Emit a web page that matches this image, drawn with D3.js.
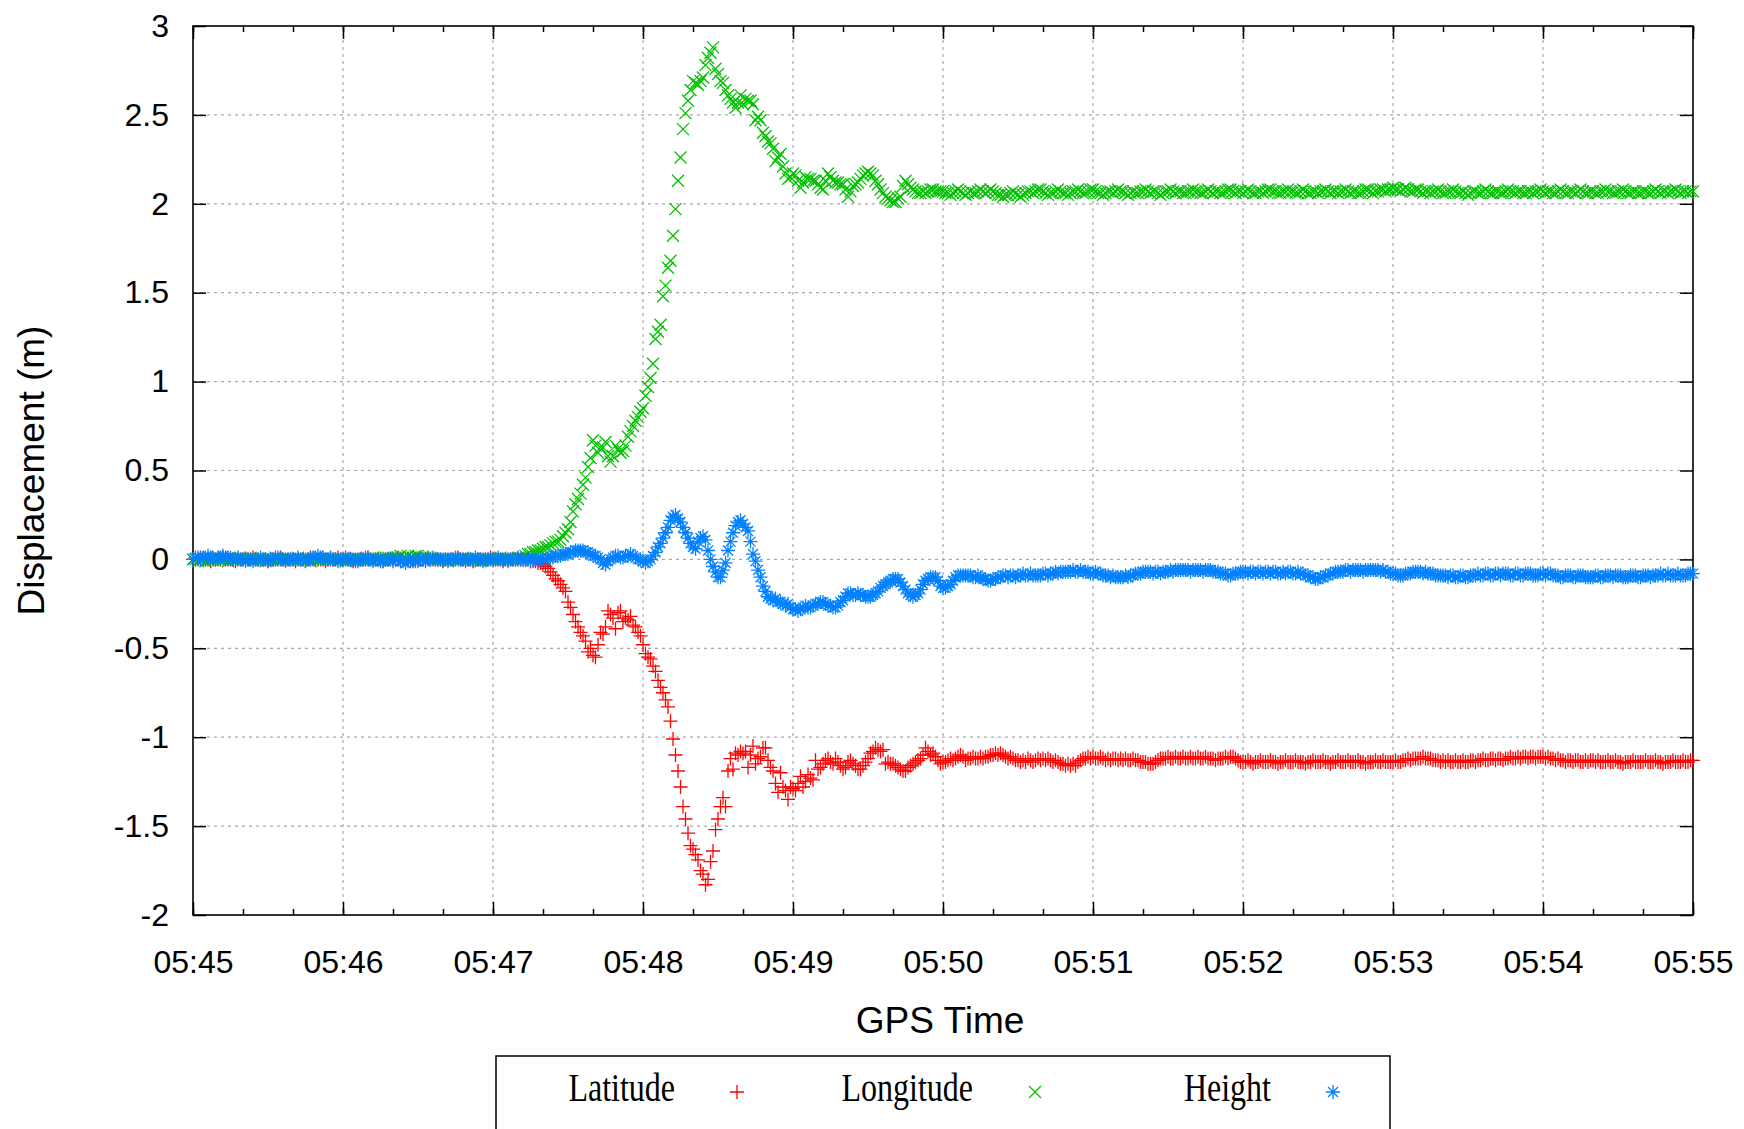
<!DOCTYPE html>
<html>
<head>
<meta charset="utf-8">
<script src="https://cdn.jsdelivr.net/npm/d3@7"></script>
<style>
  body { margin: 0; background: #fff; }
  .axis text { font-family: "Liberation Sans", Arial, sans-serif; font-size: 32px; fill: #000; }
  .axis line { stroke: #000; stroke-width: 1.5; }
  .axis path { display: none; }
</style>
</head>
<body>
<svg id="chart" width="1744" height="1129"></svg>
<script>
// displacement in cm, one sample per second starting 05:45:00 UTC
const latitude = [
  0,0,0,1,0,0,0,-1,0,0,0,0,1,0,0,0,0,-1,0,0,
  0,0,0,0,1,0,0,0,0,0,-1,0,0,0,0,1,0,0,0,0,
  0,-1,0,0,0,0,0,1,0,0,0,0,0,-1,0,0,0,0,1,0,
  0,0,0,0,-1,0,0,0,0,0,1,0,0,0,0,0,-1,0,0,0,
  0,0,1,0,0,0,0,0,-1,0,0,0,0,0,1,0,0,0,0,0,
  -1,0,0,0,0,0,1,0,0,0,0,0,-1,0,0,0,0,0,0,1,
  0,0,0,0,-1,0,0,0,0,0,0,0,0,0,0,-1,-1,-1,-2,-2,
  -3,-4,-5,-7,-9,-11,-12,-14,-16,-18,-24,-27,-31,-35,-38,-41,-43,-46,-52,-50,
  -54,-55,-48,-41,-42,-38,-29,-31,-33,-39,-30,-29,-35,-33,-34,-32,-37,-38,-41,-43,
  -48,-53,-55,-56,-60,-63,-68,-72,-75,-79,-83,-91,-101,-110,-119,-128,-139,-146,-154,-161,
  -163,-166,-169,-175,-177,-183,-180,-170,-164,-152,-146,-139,-134,-139,-119,-112,-118,-109,-110,-108,
  -109,-108,-117,-110,-105,-115,-112,-111,-106,-106,-113,-117,-119,-126,-131,-120,-128,-130,-135,-128,
  -129,-130,-126,-122,-128,-125,-121,-123,-124,-113,-118,-117,-115,-113,-112,-114,-115,-112,-114,-116,
  -118,-117,-114,-113,-115,-116,-118,-118,-116,-114,-112,-109,-108,-106,-107,-108,-107,-115,-114,-115,
  -115,-116,-117,-118,-119,-119,-117,-116,-115,-114,-113,-112,-110,-106,-108,-110,-109,-111,-113,-115,
  -114,-114,-113,-112,-113,-112,-111,-110,-111,-113,-112,-112,-111,-112,-112,-111,-112,-111,-111,-110,
  -110,-109,-110,-109,-110,-111,-112,-111,-112,-113,-113,-114,-113,-114,-112,-113,-114,-113,-112,-113,
  -112,-113,-112,-113,-114,-113,-114,-115,-115,-116,-115,-116,-115,-116,-114,-113,-112,-112,-111,-112,
  -111,-112,-112,-111,-112,-113,-112,-113,-112,-112,-113,-112,-113,-112,-113,-113,-112,-113,-113,-114,
  -114,-114,-115,-115,-115,-114,-113,-112,-112,-112,-111,-112,-112,-111,-112,-112,-111,-112,-112,-111,
  -112,-112,-111,-112,-112,-111,-112,-112,-112,-113,-112,-112,-112,-111,-112,-111,-111,-112,-113,-114,
  -114,-114,-113,-114,-115,-114,-114,-113,-114,-114,-114,-113,-114,-114,-115,-114,-114,-113,-114,-114,
  -114,-113,-114,-114,-114,-115,-114,-114,-113,-114,-114,-114,-113,-114,-114,-115,-114,-114,-113,-114,
  -114,-114,-113,-114,-114,-114,-113,-114,-114,-115,-114,-114,-114,-113,-114,-114,-113,-114,-114,-114,
  -114,-113,-114,-114,-113,-113,-112,-113,-112,-112,-112,-112,-111,-112,-112,-112,-113,-113,-113,-114,
  -113,-114,-113,-114,-114,-113,-114,-114,-113,-114,-114,-113,-113,-114,-113,-113,-112,-113,-113,-112,
  -112,-113,-112,-112,-113,-112,-112,-111,-112,-112,-111,-112,-111,-111,-112,-111,-111,-112,-111,-111,
  -111,-112,-111,-112,-112,-113,-112,-113,-113,-114,-113,-113,-114,-113,-113,-114,-114,-113,-114,-113,
  -113,-114,-113,-114,-114,-114,-113,-114,-114,-113,-114,-114,-115,-114,-114,-114,-113,-114,-114,-114,
  -114,-113,-114,-114,-114,-113,-114,-114,-115,-114,-114,-114,-113,-114,-114,-114,-113,-114,-114,-113,-113
];

const longitude = [
  0,0,-1,0,0,-1,0,0,0,1,0,0,0,0,-1,0,0,0,0,1,
  0,0,0,1,0,0,0,0,0,-1,0,0,0,1,0,0,0,0,0,0,
  0,0,1,0,0,0,0,-1,0,0,0,0,0,1,0,0,0,0,0,0,
  0,-1,0,0,0,1,0,0,0,0,0,0,1,0,0,0,0,1,1,0,
  1,1,1,2,1,1,2,1,1,2,2,1,1,1,0,1,0,0,0,0,
  0,0,-1,0,0,0,0,0,1,0,0,0,0,0,0,-1,0,0,0,0,
  0,0,0,1,0,0,0,0,0,0,1,1,1,2,3,3,4,4,5,5,
  6,7,7,8,9,10,10,11,13,15,17,21,27,31,34,37,42,46,52,57,
  67,64,60,63,63,66,58,55,58,64,62,60,61,64,69,72,75,78,80,83,
  85,92,97,102,110,124,128,132,148,154,164,168,182,197,213,226,242,251,258,264,
  269,268,267,269,271,278,282,285,288,276,273,269,268,264,261,259,257,254,257,261,
  256,259,258,258,256,247,249,247,240,238,235,234,231,224,226,228,221,217,214,215,
  217,216,213,209,212,215,214,214,213,213,211,209,208,213,217,215,213,212,212,211,
  211,208,204,207,210,211,212,214,216,217,218,217,216,213,211,208,206,204,203,202,
  201,201,203,204,210,213,211,209,208,207,206,206,207,206,207,208,208,207,207,207,
  207,206,206,205,206,207,208,207,206,205,206,207,206,206,207,208,207,206,207,208,
  207,206,205,205,204,205,205,206,207,206,205,204,205,206,207,207,206,207,208,208,
  207,206,205,206,206,207,208,207,206,206,205,206,207,207,208,207,206,206,207,208,
  208,207,206,206,205,206,207,207,206,207,208,207,207,206,205,206,207,206,206,207,
  207,208,207,206,207,207,206,205,206,207,207,208,207,206,207,207,206,206,207,207,
  208,207,207,206,206,207,208,207,206,207,207,206,206,207,208,208,207,206,207,207,
  206,207,208,207,206,206,207,207,206,207,208,208,207,207,206,206,207,207,208,207,
  207,206,206,207,208,207,206,206,207,207,206,207,207,208,207,206,207,207,206,207,
  207,208,207,206,207,207,206,206,207,208,208,207,206,207,207,208,208,207,208,208,
  209,208,208,207,208,209,208,207,207,208,208,207,206,207,207,206,207,207,208,207,
  206,206,207,207,208,207,206,206,207,206,205,206,207,207,206,206,207,208,207,206,
  206,207,207,206,206,207,208,207,207,206,207,207,206,206,207,207,206,207,207,208,
  207,206,207,207,206,206,207,208,207,206,206,207,207,206,207,208,207,206,206,207,
  207,206,206,207,207,208,207,207,206,206,207,207,208,207,206,206,207,207,206,206,
  207,207,206,206,207,208,207,206,207,207,206,207,207,208,207,206,207,207,206,207,207
];

const heightCm = [
  0,1,1,0,1,1,2,1,1,0,1,1,2,1,1,1,0,0,1,0,
  0,-1,0,0,-1,0,0,1,0,0,-1,0,0,1,1,0,0,-1,0,0,
  0,0,1,0,0,-1,0,0,1,1,2,1,1,0,0,1,0,0,-1,0,
  0,1,0,0,0,-1,-1,0,0,1,0,0,-1,0,0,-1,-1,0,0,0,
  -1,0,0,-1,-1,-2,-1,-1,0,-1,-1,0,0,-1,0,0,1,0,0,0,
  0,0,-1,0,0,1,0,0,0,-1,0,0,0,1,0,0,-1,0,0,0,
  0,0,1,0,0,0,-1,0,0,0,1,0,0,0,0,-1,0,0,0,0,
  0,0,1,1,1,2,2,2,3,3,3,4,4,5,5,5,5,4,4,3,
  2,2,1,0,-2,-3,-1,0,1,2,2,1,1,2,2,3,2,1,0,0,
  -1,-2,-1,0,2,4,7,9,12,15,18,22,24,25,23,21,18,15,12,9,
  7,6,10,12,13,11,5,0,-4,-7,-10,-10,-6,-2,5,10,15,19,21,22,
  20,18,16,10,3,-1,-6,-10,-15,-18,-21,-22,-23,-22,-24,-24,-25,-26,-25,-27,
  -28,-28,-29,-28,-27,-26,-27,-27,-26,-25,-25,-24,-24,-25,-26,-26,-27,-27,-26,-24,
  -23,-21,-19,-19,-20,-20,-19,-20,-20,-21,-21,-21,-20,-19,-18,-16,-15,-14,-13,-12,
  -11,-11,-11,-13,-15,-17,-19,-20,-21,-20,-19,-17,-14,-12,-11,-10,-10,-10,-12,-15,
  -16,-16,-15,-14,-12,-10,-9,-9,-9,-9,-9,-9,-10,-10,-9,-10,-11,-11,-12,-12,
  -11,-11,-10,-10,-9,-9,-10,-9,-9,-10,-9,-9,-8,-9,-9,-8,-9,-9,-9,-9,
  -8,-8,-9,-8,-8,-7,-8,-7,-7,-7,-7,-7,-6,-7,-7,-6,-7,-7,-7,-8,
  -8,-7,-8,-8,-9,-9,-9,-10,-9,-10,-10,-10,-10,-9,-10,-9,-9,-8,-8,-8,
  -7,-7,-7,-7,-8,-7,-7,-8,-7,-7,-7,-6,-7,-6,-6,-6,-6,-6,-6,-7,
  -6,-6,-6,-6,-7,-6,-6,-6,-7,-7,-7,-8,-8,-8,-9,-9,-8,-8,-8,-7,
  -7,-7,-8,-7,-7,-8,-7,-7,-8,-7,-7,-8,-7,-7,-8,-8,-7,-8,-7,-7,
  -8,-8,-7,-8,-8,-9,-9,-10,-10,-11,-11,-10,-10,-9,-9,-8,-8,-7,-7,-7,
  -7,-6,-6,-7,-6,-6,-6,-6,-7,-6,-6,-6,-6,-6,-6,-7,-6,-7,-7,-8,
  -8,-8,-9,-9,-9,-8,-8,-8,-7,-7,-7,-7,-8,-7,-8,-8,-8,-9,-9,-9,
  -9,-9,-10,-9,-9,-10,-10,-9,-9,-10,-10,-9,-9,-9,-8,-9,-9,-8,-8,-9,
  -9,-8,-8,-9,-8,-8,-8,-9,-9,-8,-8,-9,-9,-8,-8,-8,-9,-9,-9,-8,
  -8,-9,-8,-8,-9,-9,-9,-10,-10,-9,-9,-9,-10,-10,-9,-9,-9,-10,-10,-10,
  -10,-9,-9,-10,-10,-9,-9,-9,-10,-9,-9,-9,-10,-10,-10,-9,-9,-9,-10,-10,
  -9,-9,-9,-10,-9,-9,-9,-8,-9,-9,-8,-9,-9,-9,-8,-9,-9,-9,-8,-8,-8
];

const seriesNames = ['Latitude', 'Longitude', 'Height'];
const seriesColors = ['#ff0000', '#00c000', '#0080ff'];
const yTicks = [-2, -1.5, -1, -0.5, 0, 0.5, 1, 1.5, 2, 2.5, 3];
const startTime = Date.UTC(2011, 2, 11, 5, 45, 0);
const endTime = Date.UTC(2011, 2, 11, 5, 55, 0);

const margin = {top: 26, right: 51, bottom: 214, left: 193};
const width = 1744 - margin.left - margin.right;
const plotHeight = 1129 - margin.top - margin.bottom;

const svg = d3.select('#chart');
svg.append('rect').attr('width', 1744).attr('height', 1129).attr('fill', '#fff');

const x = d3.scaleUtc()
  .domain([new Date(startTime), new Date(endTime)])
  .range([0, width]);

const y = d3.scaleLinear()
  .domain([-2, 3])
  .range([plotHeight, 0]);

const g = svg.append('g').attr('transform', 'translate(' + margin.left + ',' + margin.top + ')');

// grid
const minutes = x.ticks(d3.utcMinute.every(1));
g.append('g').selectAll('line')
  .data(minutes.slice(1, -1))
  .join('line')
  .attr('x1', d => x(d)).attr('x2', d => x(d))
  .attr('y1', 0).attr('y2', plotHeight)
  .attr('stroke', '#a8a8a8').attr('stroke-width', 1.2).attr('stroke-dasharray', '3,4');

g.append('g').selectAll('line')
  .data(yTicks.slice(1, -1))
  .join('line')
  .attr('x1', 0).attr('x2', width)
  .attr('y1', d => y(d)).attr('y2', d => y(d))
  .attr('stroke', '#a8a8a8').attr('stroke-width', 1.2).attr('stroke-dasharray', '3,4');

// axes (plain hyphen for negatives, like gnuplot)
const fmt = d3.utcFormat('%H:%M');
g.append('g').attr('class', 'axis')
  .attr('transform', 'translate(0,' + plotHeight + ')')
  .call(d3.axisBottom(x).ticks(d3.utcMinute.every(1)).tickFormat(fmt).tickSize(-13).tickPadding(35));
g.append('g').attr('class', 'axis')
  .attr('transform', 'translate(0,' + plotHeight + ')')
  .call(d3.axisBottom(x).ticks(d3.utcSecond.every(20)).tickFormat('').tickSize(-6));
g.append('g').attr('class', 'axis')
  .call(d3.axisTop(x).ticks(d3.utcMinute.every(1)).tickFormat('').tickSize(-13));
g.append('g').attr('class', 'axis')
  .call(d3.axisTop(x).ticks(d3.utcSecond.every(20)).tickFormat('').tickSize(-6));
g.append('g').attr('class', 'axis')
  .call(d3.axisLeft(y).tickValues(yTicks).tickFormat(d => String(d)).tickSize(-13).tickPadding(24));
g.append('g').attr('class', 'axis')
  .attr('transform', 'translate(' + width + ',0)')
  .call(d3.axisRight(y).tickValues(yTicks).tickFormat('').tickSize(-13));

g.append('rect')
  .attr('width', width).attr('height', plotHeight)
  .attr('fill', 'none').attr('stroke', '#000').attr('stroke-width', 1.6);

// point symbols like gnuplot pt 1, 2, 3
const symbols = [
  'M-7,0H7M0,-7V7',
  'M-6,-6L6,6M-6,6L6,-6',
  'M-7,0H7M0,-7V7M-5,-5L5,5M-5,5L5,-5'
];

const series = [latitude, longitude, heightCm];
series.forEach((vals, k) => {
  g.append('g')
    .selectAll('path')
    .data(vals)
    .join('path')
    .attr('transform', (d, i) => 'translate(' + x(new Date(startTime + i * 1000)) + ',' + y(d / 100) + ')')
    .attr('d', symbols[k])
    .attr('fill', 'none')
    .attr('stroke', seriesColors[k])
    .attr('stroke-width', 1.3);
});

// axis titles
svg.append('text')
  .attr('transform', 'translate(31,' + (margin.top + plotHeight / 2) + ') rotate(-90)')
  .attr('text-anchor', 'middle')
  .attr('dominant-baseline', 'central')
  .style('font-family', '"Liberation Sans", Arial, sans-serif')
  .style('font-size', '37px')
  .text('Displacement (m)');

svg.append('text')
  .attr('x', margin.left + width / 2 - 3)
  .attr('y', 1020)
  .attr('text-anchor', 'middle')
  .attr('dominant-baseline', 'central')
  .style('font-family', '"Liberation Sans", Arial, sans-serif')
  .style('font-size', '37px')
  .text('GPS Time');

// legend
const legend = svg.append('g');
legend.append('rect')
  .attr('x', 496).attr('y', 1056)
  .attr('width', 894).attr('height', 120)
  .attr('fill', 'none').attr('stroke', '#000').attr('stroke-width', 1.5);

seriesNames.forEach((name, k) => {
  const right = 675 + k * 298;
  const t = legend.append('text')
    .attr('y', 1101)
    .style('font-family', '"Liberation Serif", "Times New Roman", serif')
    .style('font-size', '40px')
    .text(name);
  const w = t.node().getComputedTextLength() * 0.8;
  t.attr('x', right - w)
    .attr('textLength', w)
    .attr('lengthAdjust', 'spacingAndGlyphs');
  legend.append('path')
    .attr('transform', 'translate(' + (right + 62) + ',1092)')
    .attr('d', symbols[k])
    .attr('fill', 'none')
    .attr('stroke', seriesColors[k])
    .attr('stroke-width', 1.3);
});
</script>
</body>
</html>
